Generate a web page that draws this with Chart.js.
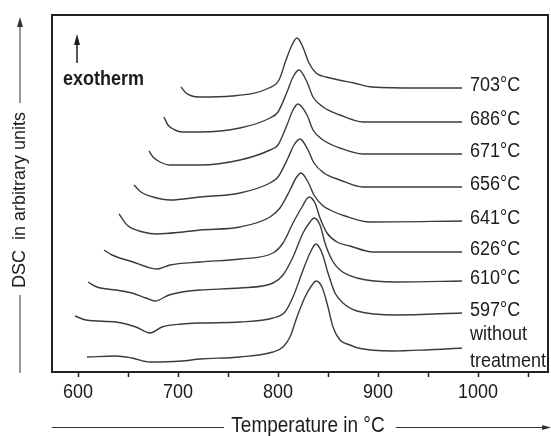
<!DOCTYPE html>
<html>
<head>
<meta charset="utf-8">
<script src="https://cdn.jsdelivr.net/npm/chart.js@4.4.1/dist/chart.umd.min.js"></script>
<style>
  html, body { margin: 0; padding: 0; background: #fff; }
</style>
</head>
<body>
<canvas id="dscChart" width="551" height="436"></canvas>
<script>
// DSC scans after annealing at different temperatures (arbitrary units, offset per scan)
const temp703 = [703, 708, 714, 721, 754, 791, 801, 808, 814, 819, 824, 831, 838, 848, 861, 876, 894, 941, 984];
const dsc703 = [285, 279, 276, 275, 276, 284, 292, 312, 327, 334, 327, 309, 299, 295, 292, 289, 285, 284, 284];

const temp686 = [686, 690, 697, 704, 722, 762, 792, 800, 809, 815, 821, 829, 835, 845, 862, 885, 984];
const dsc686 = [255, 247, 242, 240, 240, 244, 254, 260, 280, 295, 302, 290, 275, 265, 257, 250, 250];

const temp671 = [671, 675, 682, 692, 722, 762, 792, 800, 809, 815, 820, 829, 835, 845, 862, 885, 984];
const dsc671 = [221, 215, 210, 207, 207, 212, 222, 227, 247, 262, 268, 257, 242, 232, 224, 218, 218];

const temp656 = [656, 663, 675, 692, 722, 762, 792, 800, 810, 816, 822, 830, 836, 846, 862, 885, 984];
const dsc656 = [187, 180, 175, 172, 175, 179, 189, 195, 214, 227, 233, 222, 209, 199, 192, 185, 185];

const temp641 = [641, 649, 665, 679, 705, 722, 762, 792, 802, 812, 818, 823, 830, 836, 844, 852, 867, 892, 984];
const dsc641 = [158, 147, 140, 138, 140, 142, 145, 155, 164, 182, 194, 199, 190, 177, 167, 162, 156, 150, 151];

const temp626 = [626, 634, 655, 669, 679, 692, 722, 762, 795, 805, 815, 824, 831, 837, 842, 849, 859, 872, 895, 984];
const dsc626 = [122, 117, 110, 105, 103, 107, 110, 113, 119, 129, 149, 165, 175, 169, 154, 139, 130, 126, 120, 120];

const temp610 = [610, 619, 638, 654, 668, 677, 691, 704, 722, 762, 795, 805, 815, 825, 832, 836, 842, 847, 854, 862, 879, 919, 984];
const dsc610 = [90, 85, 82, 79, 74, 71, 77, 80, 82, 84, 89, 97, 115, 139, 150, 154, 147, 129, 112, 102, 94, 90, 91];

const temp597 = [597, 608, 638, 658, 672, 684, 704, 722, 762, 795, 807, 815, 824, 832, 838, 844, 850, 857, 865, 879, 919, 984];
const dsc597 = [56, 52, 50, 45, 39, 45, 48, 49, 50, 54, 60, 75, 99, 119, 128, 119, 99, 79, 69, 61, 57, 59];

const tempUntreated = [609, 638, 654, 672, 704, 722, 762, 795, 805, 812, 819, 827, 834, 838, 844, 850, 855, 862, 872, 880, 914, 947, 984];
const dscUntreated = [15, 16, 14, 10, 11, 13, 15, 20, 25, 35, 55, 75, 87, 91, 85, 65, 45, 32, 27, 24, 21, 22, 24];

const seriesLabels = ['703°C', '686°C', '671°C', '656°C', '641°C', '626°C', '610°C', '597°C', 'without\ntreatment'];
const xTickMarks = [600, 650, 700, 750, 800, 850, 900, 950, 1000, 1050];
const xTickLabels = [600, 700, 800, 900, 1000];

const series = [
    [temp703, dsc703],
    [temp686, dsc686],
    [temp671, dsc671],
    [temp656, dsc656],
    [temp641, dsc641],
    [temp626, dsc626],
    [temp610, dsc610],
    [temp597, dsc597],
    [tempUntreated, dscUntreated],
];

const FONT = '"Liberation Sans", Arial, Helvetica, sans-serif';
const INK = '#1c1c1c';
const STRETCH = 1.12;

function drawText(ctx, text, x, y, font, align, stretch) {
    ctx.save();
    ctx.translate(x, y);
    ctx.scale(1, stretch || 1);
    ctx.font = font;
    ctx.fillStyle = INK;
    ctx.textAlign = align || 'center';
    ctx.textBaseline = 'middle';
    ctx.fillText(text, 0, 0);
    ctx.restore();
}

function drawArrow(ctx, x1, y1, x2, y2, head, half) {
    const a = Math.atan2(y2 - y1, x2 - x1);
    ctx.beginPath();
    ctx.moveTo(x1, y1);
    ctx.lineTo(x2 - Math.cos(a) * head * 0.6, y2 - Math.sin(a) * head * 0.6);
    ctx.stroke();
    ctx.beginPath();
    ctx.moveTo(x2, y2);
    ctx.lineTo(x2 - Math.cos(a) * head - Math.sin(a) * half, y2 - Math.sin(a) * head + Math.cos(a) * half);
    ctx.lineTo(x2 - Math.cos(a) * head + Math.sin(a) * half, y2 - Math.sin(a) * head - Math.cos(a) * half);
    ctx.closePath();
    ctx.fill();
}

const decorations = {
    id: 'decorations',
    afterDraw(chart) {
        const ctx = chart.ctx;
        const area = chart.chartArea;
        const xScale = chart.scales.x;

        // frame on the other three sides
        ctx.save();
        ctx.strokeStyle = '#222';
        ctx.lineWidth = 2;
        ctx.beginPath();
        ctx.moveTo(area.left, area.bottom + 1);
        ctx.lineTo(area.left, area.top);
        ctx.lineTo(area.right, area.top);
        ctx.lineTo(area.right, area.bottom + 1);
        ctx.stroke();
        ctx.restore();

        // x tick labels
        xTickLabels.forEach(v => {
            drawText(ctx, String(v), xScale.getPixelForValue(v), area.bottom + 20, '18px ' + FONT, 'center', STRETCH);
        });

        // labels at the end of each scan
        chart.data.datasets.forEach((ds, i) => {
            const pts = chart.getDatasetMeta(i).data;
            const last = pts[pts.length - 1];
            const lines = seriesLabels[i].split('\n');
            const mid = last.y + (lines.length > 1 ? 0 : -3);
            lines.forEach((line, k) => {
                const y = mid + (k - (lines.length - 1) / 2) * 27;
                drawText(ctx, line, last.x + 8, y, '18px ' + FONT, 'left', STRETCH);
            });
        });

        // exotherm marker
        ctx.save();
        ctx.strokeStyle = INK;
        ctx.fillStyle = INK;
        ctx.lineWidth = 1.5;
        drawArrow(ctx, area.left + 25, area.top + 48, area.left + 25, area.top + 19, 11, 3);
        ctx.restore();
        drawText(ctx, 'exotherm', area.left + 11, area.top + 64, 'bold 18px ' + FONT, 'left', STRETCH);

        // x axis title with guide lines
        const tx = 308, ty = 426;
        drawText(ctx, 'Temperature in °C', tx, ty, '19px ' + FONT, 'center', STRETCH);
        ctx.save();
        ctx.strokeStyle = '#333';
        ctx.fillStyle = '#333';
        ctx.lineWidth = 1;
        ctx.beginPath();
        ctx.moveTo(area.left, ty + 1.5);
        ctx.lineTo(224, ty + 1.5);
        ctx.stroke();
        drawArrow(ctx, 396, ty + 1.5, 551, ty + 1.5, 9, 2.5);

        // y axis title with guide lines
        const yx = 20;
        ctx.beginPath();
        ctx.moveTo(yx, area.bottom + 1);
        ctx.lineTo(yx, 295);
        ctx.stroke();
        drawArrow(ctx, yx, 103, yx, 17, 10, 3);
        ctx.restore();

        ctx.save();
        ctx.translate(yx, 200);
        ctx.rotate(-Math.PI / 2);
        ctx.font = '18px ' + FONT;
        ctx.fillStyle = INK;
        ctx.textAlign = 'center';
        ctx.textBaseline = 'middle';
        ctx.fillText('DSC  in arbitrary units', 0, 0);
        ctx.restore();
    },
};

new Chart(document.getElementById('dscChart'), {
    type: 'line',
    data: {
        datasets: series.map(([temps, dsc], i) => ({
            label: seriesLabels[i],
            data: temps.map((t, k) => ({ x: t, y: dsc[k] })),
            borderColor: '#3b3b3b',
            borderWidth: 1.4,
            pointRadius: 0,
            fill: false,
            cubicInterpolationMode: 'monotone',
        })),
    },
    options: {
        responsive: false,
        animation: false,
        layout: {
            padding: { left: 52, right: 3, top: 15, bottom: 59 },
        },
        plugins: {
            legend: { display: false },
            tooltip: { enabled: false },
        },
        scales: {
            x: {
                type: 'linear',
                min: 574,
                max: 1070,
                afterBuildTicks: (scale) => {
                    scale.ticks = xTickMarks.map(v => ({ value: v }));
                },
                ticks: { display: false },
                grid: {
                    drawOnChartArea: false,
                    drawTicks: true,
                    tickLength: 5,
                    tickWidth: 1.5,
                    tickColor: '#222',
                },
                border: { display: true, color: '#222', width: 2 },
            },
            y: {
                display: false,
                min: 0,
                max: 357,
            },
        },
    },
    plugins: [decorations],
});
</script>
</body>
</html>
